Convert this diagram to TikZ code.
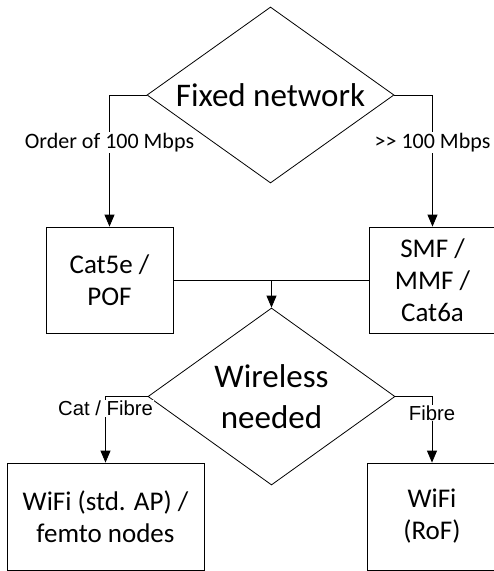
\documentclass[tikz,border=0pt]{standalone}
\usepackage{fontspec}
\setmainfont{Carlito}
\newfontfamily\arialf{Liberation Sans}
\usetikzlibrary{shapes.geometric,arrows.meta}
\begin{document}
\begin{tikzpicture}[x=1pt,y=-1pt,
  line width=0.8pt,
  dec/.style={draw, shape=diamond, shape aspect=1.4, inner sep=0pt, align=center, font=\fontsize{33}{41}\selectfont},
  box/.style={draw, rectangle, inner sep=0pt, align=center, font=\fontsize{27}{32}\selectfont},
  arr/.style={-{Triangle[length=12pt,width=10pt]}},
  lab/.style={fill=white, inner sep=1pt},
]
\useasboundingbox (0,0) rectangle (494,571);
\clip (0,0) rectangle (494,571);

\node[dec, minimum width=247pt, minimum height=176pt] (fixed) at (270.5,95) {Fixed network};
\node[box, minimum width=127pt, minimum height=106pt] (cat5) at (109.5,280) {Cat5e /\\POF};
\node[box, minimum width=127pt, minimum height=106pt] (smf) at (432.5,280) {SMF /\\MMF /\\Cat6a};
\node[dec, minimum width=247pt, minimum height=177pt] (wire) at (271.5,396.5) {Wireless\\needed};
\node[box, minimum width=197pt, minimum height=107pt] (wifi) at (105.5,516.5) {WiFi (std. AP) /\\femto nodes};
\node[box, minimum width=130pt, minimum height=107pt] (rof) at (432,516.5) {WiFi\\(RoF)};

\coordinate (j) at (271.5,280);

\draw[arr] (fixed.west) -| (cat5.north)
  node[pos=0.68, lab, font=\fontsize{22}{26}\selectfont] (l1) {Order of 100 Mbps};
\draw[arr] (fixed.east) -| (smf.north)
  node[pos=0.68, lab, font=\fontsize{22}{26}\selectfont] (l2) {>{}> 100 Mbps};
\draw (cat5.east) -- (smf.west);
\draw[arr] (j) -- (wire.north);
\draw[arr] (wire.west) -| (wifi.north)
  node[pos=0.59, lab, font=\arialf\fontsize{20.3}{23}\selectfont] (l3) {Cat / Fibre};
\draw[arr] (wire.east) -| (rof.north)
  node[pos=0.625, lab, font=\arialf\fontsize{20.3}{23}\selectfont] (l4) {Fibre};
\end{tikzpicture}
\end{document}
